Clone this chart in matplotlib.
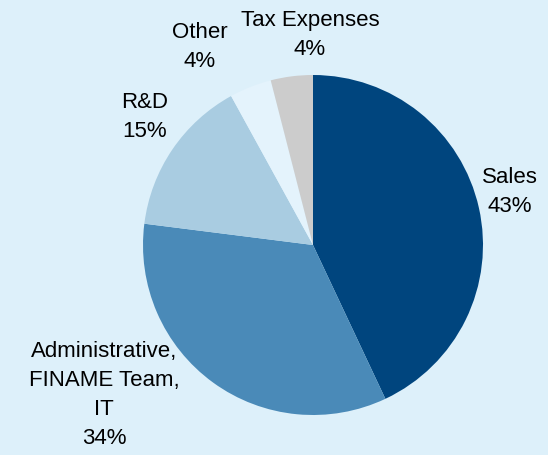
import matplotlib.pyplot as plt

labels = ["Sales", "Administrative,\nFINAME Team,\nIT", "R&D", "Other", "Tax Expenses"]
shares = [43, 34, 15, 4, 4]
colors = ["#00457e", "#4a8ab8", "#a9cce1", "#e4f3fc", "#cccccc"]

# label centres in figure pixels (x from left, y from top)
label_pos = [(510, 192), (104, 395), (145, 117), (200, 47), (310, 35)]

bg = "#ddf0fa"
fig = plt.figure(figsize=(5.48, 4.55), dpi=100, facecolor=bg)
ax = fig.add_axes([0, 0, 1, 1])
ax.set_facecolor(bg)

ax.pie(shares, colors=colors, startangle=90, counterclock=False,
       center=(313, 455 - 245), radius=170, frame=True)
ax.set_xlim(0, 548)
ax.set_ylim(0, 455)
ax.set_aspect("equal")
ax.axis("off")

for lab, val, (x, y) in zip(labels, shares, label_pos):
    ax.text(x, 455 - y, f"{lab}\n{val}%", ha="center", va="center",
            fontsize=16, family="Liberation Sans", linespacing=1.5,
            color="#000000")

fig.savefig("out.png", dpi=100, facecolor=bg)
